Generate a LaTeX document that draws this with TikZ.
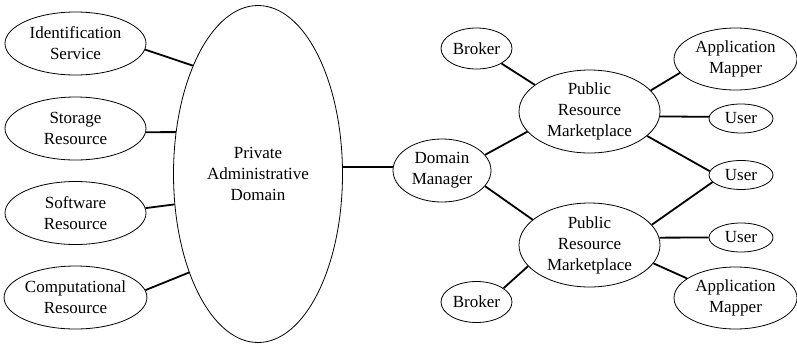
\documentclass[tikz,border=0pt]{standalone}
\usepackage{fontspec}
\setmainfont{Liberation Serif}
\usepackage{tikz}
\usetikzlibrary{shapes,positioning}
\tikzstyle{entidad} = [draw, ellipse, line width=0.8pt, inner sep=0pt, align=center, font=\fontsize{17}{21}\selectfont]
\tikzstyle{enlace} = [line width=1.8pt]
\begin{document}
\begin{tikzpicture}[x=1pt,y=-1pt]
					\useasboundingbox (0,0) rectangle (797,346);
					% dominio privado y sus recursos
					\node [entidad, minimum width=169pt, minimum height=337pt] (dominio) at (258,174) {Private\\Administrative\\Domain};
					\node [entidad, minimum width=141pt, minimum height=63pt] (ident) at (75.5,43.5) {Identification\\Service};
					\node [entidad, minimum width=141pt, minimum height=63pt] (almacen) at (75.5,128.5) {Storage\\Resource};
					\node [entidad, minimum width=141pt, minimum height=63pt] (software) at (75.5,213) {Software\\Resource};
					\node [entidad, minimum width=141pt, minimum height=63pt] (computo) at (75.5,297.5) {Computational\\Resource};
					\node [entidad, minimum width=98pt, minimum height=63pt] (gestor) at (442,170.5) {Domain\\Manager};
					% mercados publicos
					\node [entidad, minimum width=141pt, minimum height=83pt] (mercadoA) at (589.5,111.5) {Public\\Resource\\Marketplace};
					\node [entidad, minimum width=141pt, minimum height=84pt] (mercadoB) at (589.5,245) {Public\\Resource\\Marketplace};
					\node [entidad, minimum width=71pt, minimum height=41pt] (brokerA) at (476.5,48.5) {Broker};
					\node [entidad, minimum width=71pt, minimum height=41pt] (brokerB) at (476.5,302) {Broker};
					\node [entidad, minimum width=123pt, minimum height=62pt] (mapperA) at (735.5,59) {Application\\Mapper};
					\node [entidad, minimum width=123pt, minimum height=62pt] (mapperB) at (735.5,298) {Application\\Mapper};
					\node [entidad, minimum width=64pt, minimum height=29pt] (userA) at (741,118.5) {User};
					\node [entidad, minimum width=64pt, minimum height=29pt] (userB) at (741,175) {User};
					\node [entidad, minimum width=64pt, minimum height=29pt] (userC) at (741,237.5) {User};
					% enlaces
					\draw [enlace] (ident.-5) -- (dominio.121);
					\draw [enlace] (almacen.-3) -- (dominio.153.2);
					\draw [enlace] (software.4) -- (dominio.200);
					\draw [enlace] (computo.6) -- (dominio.235.2);
					\draw [enlace] (gestor.176) -- (gestor.176 -| dominio.east);
					\draw [enlace] (gestor.20.2) -- (mercadoA.198.3);
					\draw [enlace] (gestor.-20.6) -- (mercadoB.156);
					\draw [enlace] (brokerA.-31.4) -- (mercadoA.154.8);
					\draw [enlace] (brokerB.27.3) -- (mercadoB.199.8);
					\draw [enlace] (mercadoA.19.6) -- (mapperA.194.3);
					\draw [enlace] (mercadoA.-4.7) -- (userA.177.8);
					\draw [enlace] (mercadoA.-23.2) -- (userB.173.9);
					\draw [enlace] (mercadoB.18) -- (userB.194.4);
					\draw [enlace] (mercadoB.6.2) -- (userC.180);
					\draw [enlace] (mercadoB.-16) -- (mapperB.158);
\end{tikzpicture}
\end{document}
